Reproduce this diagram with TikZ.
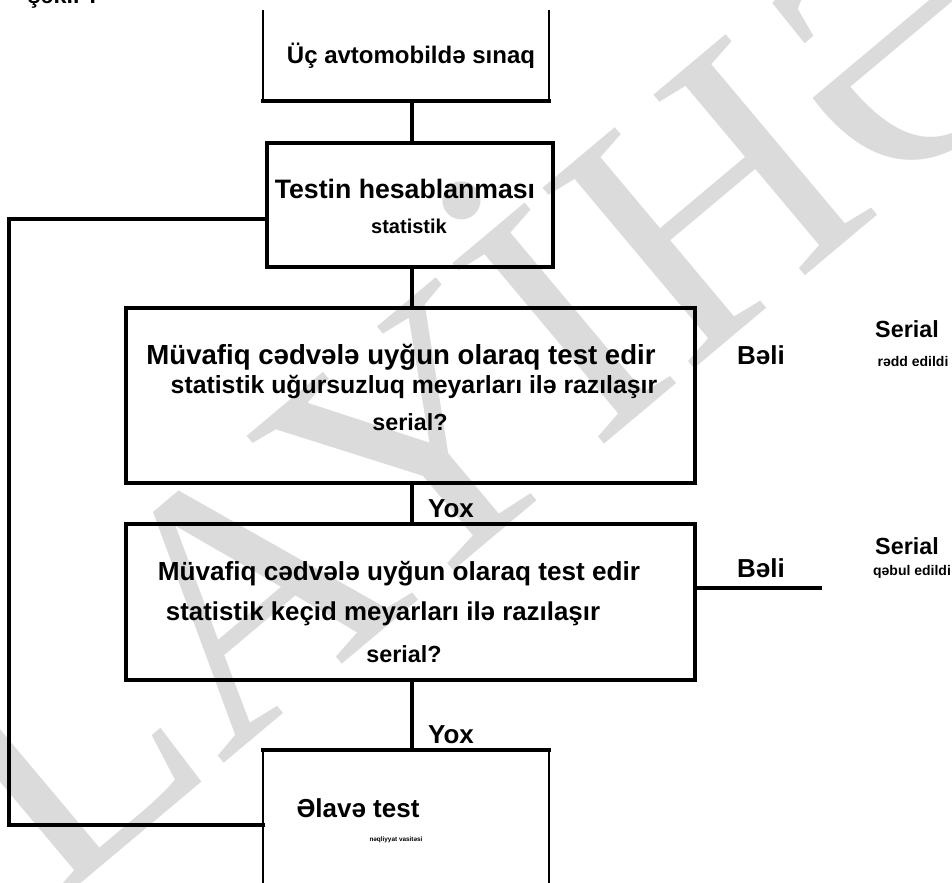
\documentclass[tikz,border=0pt]{standalone}
\usepackage{fontspec}
\setmainfont{Liberation Sans}
\newfontfamily\wmfont{Liberation Serif}
\begin{document}
\begin{tikzpicture}[x=0.75pt,y=-0.75pt,
  ln/.style={line width=2.4pt, line cap=rect},
  thinln/.style={line width=1.3pt},
  frame/.style={inner sep=0pt, outer sep=0pt, draw, line width=2.4pt},
  ghost/.style={inner sep=0pt, outer sep=0pt},
  lbl/.style={inner sep=0pt, anchor=base, font=\bfseries\fontsize{19.5}{22}\selectfont},
  mid/.style={inner sep=0pt, anchor=base, font=\bfseries\fontsize{17.5}{21}\selectfont},
  small/.style={inner sep=0pt, anchor=base, font=\bfseries\fontsize{10.5}{12}\selectfont},
  tiny/.style={inner sep=0pt, anchor=base, font=\bfseries\fontsize{4.8}{6}\selectfont}]
\useasboundingbox (0,0) rectangle (952,882);
\fill[white] (0,0) rectangle (952,882);
% watermark
\node[ghost, rotate=40, text=black!14, font=\wmfont\fontsize{270}{270}\selectfont] (wm) at (474,362) {LAYİHƏ};
% helper coordinates
\coordinate (c) at (412,0);
\coordinate (lp) at (9,219);
\coordinate (lpb) at (9,825);
\coordinate (by) at (820,588);
% boxes
\node[ghost, minimum width=214.5pt, minimum height=68.25pt] (top) at (406,55.5) {};
\node[frame, minimum width=214.5pt, minimum height=93pt] (box2) at (410,205) {};
\node[frame, minimum width=426.75pt, minimum height=131.25pt] (box3) at (410.5,395.5) {};
\node[frame, minimum width=426.75pt, minimum height=117pt] (box4) at (410.5,602) {};
\node[ghost, minimum width=214.5pt, minimum height=112.5pt] (bot) at (406,825) {};
% open frames
\draw[thinln] (top.north west) -- (top.south west);
\draw[thinln] (top.north east) -- (top.south east);
\draw[ln] (top.south west) -- (top.south east);
\draw[thinln] (bot.north west) -- (bot.south west);
\draw[thinln] (bot.north east) -- (bot.south east);
\draw[ln] (bot.north west) -- (bot.north east);
% connectors
\draw[ln] (top.south -| c) -- (box2.north -| c);
\draw[ln] (box2.south -| c) -- (box3.north -| c);
\draw[ln] (box3.south -| c) -- (box4.north -| c);
\draw[ln] (box4.south -| c) -- (bot.north -| c);
\draw[ln] (box2.west |- lp) -- (lp) -- (lpb) -- (bot.west |- lpb);
\draw[ln] (box4.east |- by) -- (by);
% texts
\node[mid] (fig) at (64,3) {şəkil ?};
\node[mid, font=\bfseries\fontsize{18}{21}\selectfont] (t1) at (411,63) {Üç avtomobildə sınaq};
\node[lbl, font=\bfseries\fontsize{20}{23}\selectfont] (t2a) at (405,198) {Testin hesablanması};
\node[lbl, font=\bfseries\fontsize{15}{17}\selectfont] (t2b) at (409,233) {statistik};
\node[lbl, font=\bfseries\fontsize{20.7}{24}\selectfont] (t3a) at (401,364) {Müvafiq cədvələ uyğun olaraq test edir};
\node[lbl, font=\bfseries\fontsize{18.6}{22}\selectfont] (t3b) at (414,393) {statistik uğursuzluq meyarları ilə razılaşır};
\node[lbl, font=\bfseries\fontsize{17.5}{20}\selectfont] (t3c) at (410,430) {serial?};
\node[lbl, font=\bfseries\fontsize{19.6}{23}\selectfont] (t4a) at (399,580) {Müvafiq cədvələ uyğun olaraq test edir};
\node[lbl, font=\bfseries\fontsize{19.4}{23}\selectfont] (t4b) at (383,620) {statistik keçid meyarları ilə razılaşır};
\node[lbl, font=\bfseries\fontsize{17.5}{20}\selectfont] (t4c) at (404,662) {serial?};
\node[lbl] (yes1) at (761,364) {Bəli};
\node[mid] (ser1) at (907,337) {Serial};
\node[small] (rej) at (913,366) {rədd edildi};
\node[lbl] (yes2) at (761,577) {Bəli};
\node[mid] (ser2) at (907,554) {Serial};
\node[small] (acc) at (912,575) {qəbul edildi};
\node[lbl] (no1) at (451,517) {Yox};
\node[lbl] (no2) at (451,743) {Yox};
\node[lbl] (t5a) at (358,817) {Əlavə test};
\node[tiny] (t5b) at (396,841) {nəqliyyat vasitəsi};
\end{tikzpicture}
\end{document}
